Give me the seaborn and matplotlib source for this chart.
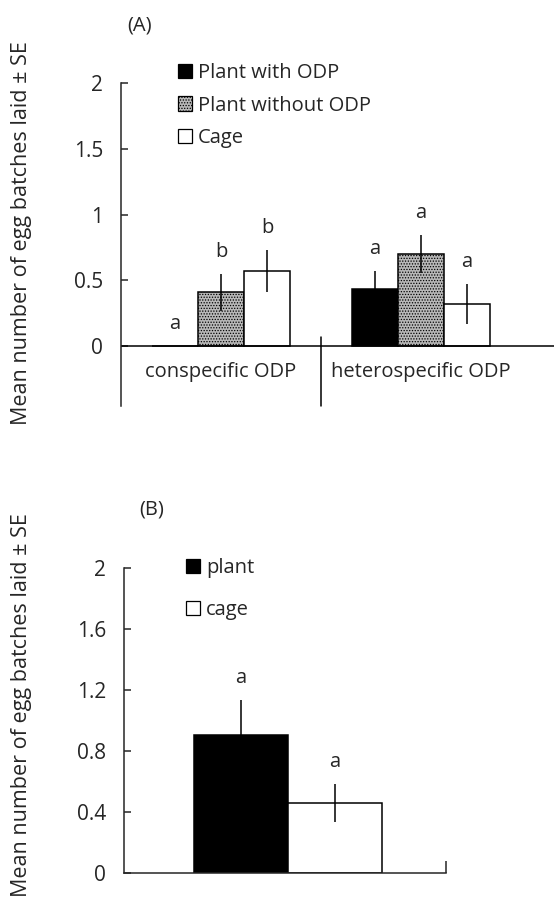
import numpy as np
import pandas as pd
import matplotlib
matplotlib.use('Agg')
import matplotlib.pyplot as plt
from matplotlib.patches import Patch
import seaborn as sns

W, H = 554, 901

# panel A
groups_a = ['conspecific ODP', 'heterospecific ODP']
treat_a = ['Plant with ODP', 'Plant without ODP', 'Cage']
mean_cons = [0.0, 0.41, 0.57]
se_cons = [0.0, 0.14, 0.16]
mean_het = [0.43, 0.70, 0.32]
se_het = [0.14, 0.145, 0.15]
letters_cons = ['a', 'b', 'b']
letters_het = ['a', 'a', 'a']
yticks_a = [0, 0.5, 1, 1.5, 2]
yticklabels_a = ['0', '0.5', '1', '1.5', '2']

# panel B
groups_b = ['all']
treat_b = ['plant', 'cage']
mean_b = [0.905, 0.456]
se_b = [0.23, 0.125]
letters_b = ['a', 'a']
yticks_b = [0, 0.4, 0.8, 1.2, 1.6, 2]
yticklabels_b = ['0', '0.4', '0.8', '1.2', '1.6', '2']

YLABEL = 'Mean number of egg batches laid \u00b1 SE'
FONT = 14.5
TICKFONT = 15
LABFONT = 15.5
STYLE = {
    'Plant with ODP': dict(facecolor='black', hatch=None),
    'Plant without ODP': dict(facecolor='#b8b8b8', hatch='......'),
    'Cage': dict(facecolor='white', hatch=None),
    'plant': dict(facecolor='black', hatch=None),
    'cage': dict(facecolor='white', hatch=None),
}


def px_axes(fig, left, top, right, bottom):
    """Add axes using pixel edges measured from the top-left corner."""
    return fig.add_axes([left / W, 1 - bottom / H,
                         (right - left) / W, (bottom - top) / H])


def draw_bars(ax, df, order, hue_order, width, gap):
    palette = {k: STYLE[k]['facecolor'] for k in hue_order}
    sns.barplot(data=df, x='group', y='mean', hue='treatment', order=order,
                hue_order=hue_order, width=width, dodge=True, errorbar=None,
                palette=palette, edgecolor='black', linewidth=1.1,
                legend=False, ax=ax)
    for hue, cont in zip(hue_order, ax.containers):
        st = STYLE[hue]
        sub = df[df['treatment'] == hue].set_index('group').loc[order]
        for bar, (_, row) in zip(cont, sub.iterrows()):
            bar.set_facecolor(st['facecolor'])
            bar.set_edgecolor('black')
            if st['hatch']:
                bar.set_hatch(st['hatch'])
            xc = bar.get_x() + bar.get_width() / 2
            if row['se'] > 0:
                ax.errorbar(xc, row['mean'], yerr=row['se'], fmt='none',
                            ecolor='black', elinewidth=1.1, capsize=0)
            ax.text(xc, row['mean'] + row['se'] + gap, row['letter'],
                    ha='center', va='baseline', fontsize=FONT)


def legend_handles(hue_order):
    return [Patch(facecolor=STYLE[k]['facecolor'], edgecolor='black',
                  hatch=STYLE[k]['hatch'], linewidth=0.9) for k in hue_order]


def style_axis(ax):
    sns.despine(ax=ax, top=True, right=True, bottom=True)
    ax.spines['left'].set_linewidth(1.1)
    ax.tick_params(axis='y', left=True, direction='in', length=5, width=1.1,
                   pad=13, labelsize=TICKFONT)
    ax.set_xlabel('')
    ax.set_ylabel('')


def main():
    sns.set_style('white')
    plt.rcParams['font.family'] = ['Open Sans', 'DejaVu Sans']
    plt.rcParams['hatch.linewidth'] = 0.6

    fig = plt.figure(figsize=(W / 100, H / 100), dpi=100)

    # ---- panel A
    df_a = pd.DataFrame({
        'group': [groups_a[0]] * 3 + [groups_a[1]] * 3,
        'treatment': treat_a * 2,
        'mean': mean_cons + mean_het,
        'se': se_cons + se_het,
        'letter': letters_cons + letters_het,
    })
    ax1 = px_axes(fig, 121, 83, 554, 406)
    draw_bars(ax1, df_a, groups_a, treat_a, 0.69, 0.13)
    ax1.set_xlim(-0.5, 1.665)
    ax1.set_ylim(-0.456, 2.0)
    ax1.set_yticks(yticks_a)
    ax1.set_yticklabels(yticklabels_a)
    ax1.set_xticks([])
    ax1.axhline(0, color='black', linewidth=1.1)
    ax1.plot([0.5, 0.5], [-0.456, 0.07], color='black', linewidth=1.1,
             clip_on=False)
    for i, g in enumerate(groups_a):
        ax1.text(i, -0.2, g, ha='center', va='center', fontsize=FONT)
    style_axis(ax1)
    ax1.legend(legend_handles(treat_a), treat_a, loc='upper left',
               bbox_to_anchor=(168 / W, 1 - 53 / H),
               bbox_transform=fig.transFigure, frameon=False,
               fontsize=FONT, handlelength=0.7, handleheight=0.7,
               handletextpad=0.3, labelspacing=0.62, borderpad=0)
    fig.text(140 / W, 1 - 25 / H, '(A)', ha='center', va='center',
             fontsize=FONT)
    fig.text(22 / W, 1 - 233 / H, YLABEL, rotation=90, ha='center',
             va='center', fontsize=LABFONT)

    # ---- panel B
    df_b = pd.DataFrame({
        'group': groups_b * 2,
        'treatment': treat_b,
        'mean': mean_b,
        'se': se_b,
        'letter': letters_b,
    })
    ax2 = px_axes(fig, 124, 568, 446, 872.7)
    draw_bars(ax2, df_b, groups_b, treat_b, 0.6, 0.11)
    xmin, xmax = -0.524, 0.505
    ax2.set_xlim(xmin, xmax)
    ax2.set_ylim(0, 2.0)
    ax2.set_yticks(yticks_b)
    ax2.set_yticklabels(yticklabels_b)
    style_axis(ax2)
    ax2.spines['bottom'].set_visible(True)
    ax2.spines['bottom'].set_linewidth(1.1)
    ax2.set_xticks([xmax])
    ax2.tick_params(axis='x', bottom=True, direction='in', length=9,
                    width=1.1, labelbottom=False)
    ax2.legend(legend_handles(treat_b), treat_b, loc='upper left',
               bbox_to_anchor=(176 / W, 1 - 548 / H),
               bbox_transform=fig.transFigure, frameon=False,
               fontsize=FONT, handlelength=0.7, handleheight=0.7,
               handletextpad=0.3, labelspacing=1.1, borderpad=0)
    fig.text(152 / W, 1 - 510 / H, '(B)', ha='center', va='center',
             fontsize=FONT)
    fig.text(22 / W, 1 - 705 / H, YLABEL, rotation=90, ha='center',
             va='center', fontsize=LABFONT)

    fig.savefig('out.png', dpi=100)


if __name__ == '__main__':
    main()
